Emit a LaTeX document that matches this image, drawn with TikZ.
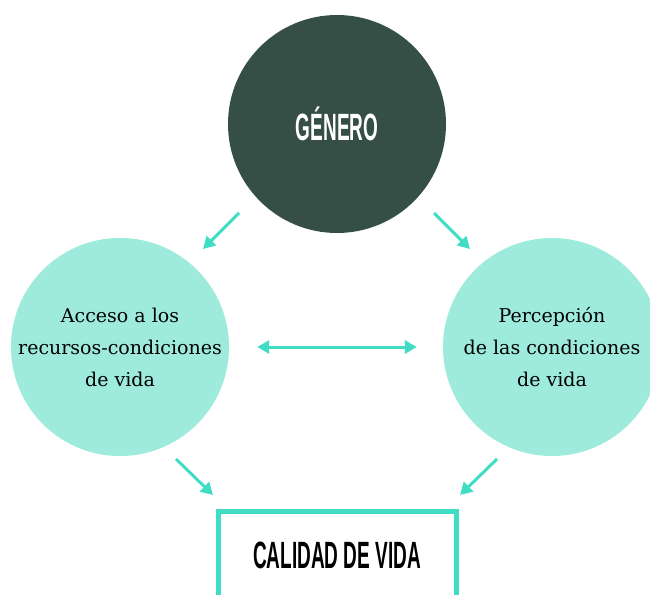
\documentclass[tikz,border=0pt]{standalone}
\usepackage{fontspec}
\usetikzlibrary{arrows.meta}
\setmainfont{DejaVu Serif}
\newfontfamily\condfont[FakeStretch=0.5]{Liberation Sans Bold}
\definecolor{darkg}{HTML}{354E46}
\definecolor{lightg}{HTML}{9EEBDD}
\definecolor{turq}{HTML}{40DCC4}
\tikzset{
  bigcirc/.style={circle, inner sep=0pt, minimum size=218pt, fill=lightg, align=center,
    font=\fontsize{19}{32}\selectfont, text=black},
  topcirc/.style={circle, inner sep=0pt, minimum size=218pt, fill=darkg, text=white,
    font=\condfont\fontsize{38}{40}\selectfont},
  resbox/.style={draw=turq, line width=5pt, minimum width=238pt, minimum height=87pt,
    inner sep=0pt, font=\condfont\fontsize{38}{40}\selectfont, text=black},
  arr/.style={draw=turq, line width=3pt, -{Triangle[length=12pt,width=13pt]}},
  darr/.style={draw=turq, line width=3pt, {Triangle[length=12pt,width=13pt]}-{Triangle[length=12pt,width=13pt]}}
}
\begin{document}
\begin{tikzpicture}[x=1pt,y=-1pt]
\useasboundingbox (0,0) rectangle (650,594);
\node[topcirc] (gen) at (337,124) {GÉNERO};
\node[bigcirc] (acc) at (120,347) {Acceso a los\\recursos-condiciones\\de vida};
\node[bigcirc] (per) at (552,347) {Percepción\\de las condiciones\\de vida};
\node[resbox] (cal) at (337,555) {CALIDAD DE VIDA};
\coordinate (t1) at (239,213);
\coordinate (t2) at (203,249);
\coordinate (u1) at (434,213);
\coordinate (u2) at (470,249);
\draw[arr] (t1) -- (t2);
\draw[arr] (u1) -- (u2);
\draw[darr, shorten <=28pt, shorten >=26pt] (acc) -- (per);
\coordinate (a1) at (176,459);
\coordinate (a2) at (213,495);
\coordinate (b1) at (497,459);
\coordinate (b2) at (460,495);
\draw[arr] (a1) -- (a2);
\draw[arr] (b1) -- (b2);
\end{tikzpicture}
\end{document}
